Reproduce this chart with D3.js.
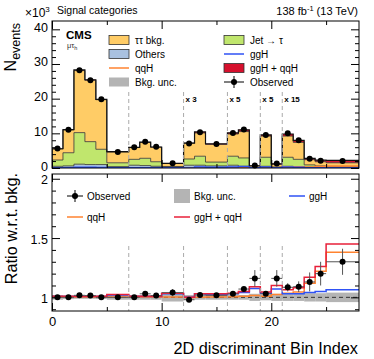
<!DOCTYPE html>
<html>
<head>
<meta charset="utf-8">
<script src="https://cdn.jsdelivr.net/npm/d3@7"></script>
<style>
  body { margin: 0; background: #fff; }
  svg { font-family: "Liberation Sans", Arial, sans-serif; }
</style>
</head>
<body>
<div id="chart-area"></div>
<script>
// bin edges of the 2D discriminant bins
const binEdges = [0, 1, 2, 3, 4, 5, 7, 8, 9, 10, 12, 13, 14, 16, 17, 18, 19, 20, 21, 22, 23, 24, 25, 28];

// top panel, events x10^3
const others = [0.5, 0.6, 1.1, 1.0, 1.0, 0.4, 0.8, 0.7, 0.5, 0.3, 0.8, 0.8, 0.6, 0.8, 0.5, 0.1, 0.5, 0.1, 0.5, 0.4, 0.2, 0.15, 0.1];
const jetFakes = [1.8, 3.8, 9.1, 6.6, 4.4, 1.1, 1.7, 2.1, 1.3, 0.1, 1.8, 2.6, 1.1, 2.6, 2.4, 0.1, 2.6, 0.2, 2.6, 2.1, 0.7, 0.45, 0.2];
const tautau = [3.2, 6.6, 17.9, 17.7, 14.3, 3.1, 3.4, 4.6, 4.2, 0.9, 4.6, 6.7, 5.1, 6.4, 7.6, 0.4, 6.1, 0.8, 6.1, 4.9, 1.5, 1.2, 1.2];
const signal = [0.05, 0.08, 0.2, 0.15, 0.12, 0.1, 0.05, 0.08, 0.06, 0.04, 0.0, 0.3, 0.2, 0.35, 0.5, 0.05, 0.35, 0.1, 0.6, 0.55, 0.35, 0.45, 0.7];
const ggHTop = [0.05, 0.08, 0.25, 0.2, 0.15, 0.1, 0.05, 0.06, 0.05, 0.04, 0.0, 0.3, 0.2, 0.3, 0.4, 0.04, 0.3, 0.08, 0.3, 0.22, 0.1, 0.1, 0.1];
const qqHTop = [0.0, 0.0, 0.01, 0.01, 0.01, 0.0, 0.0, 0.01, 0.01, 0.0, 0.0, 0.0, 0.0, 0.05, 0.1, 0.01, 0.05, 0.03, 0.3, 0.35, 0.3, 0.4, 0.6];
const observed = [5.6, 11.0, 28.2, 25.3, 19.8, 4.6, 6.0, 7.6, 6.1, 1.35, 7.1, 10.3, 6.9, 10.1, 11.1, 0.7, 9.5, 1.3, 10.0, 8.0, 2.7, 2.1, 2.0];

// ratio panel
const ratioObs = [1.0, 1.0, 1.017, 1.015, 1.0, 1.0, 1.0, 1.03, 1.015, 1.04, 0.98, 1.02, 1.017, 1.03, 1.07, 1.16, 1.03, 1.16, 1.085, 1.09, 1.13, 1.2, 1.3];
const ratioErr = [0.01, 0.008, 0.006, 0.006, 0.007, 0.013, 0.013, 0.012, 0.013, 0.03, 0.012, 0.01, 0.012, 0.012, 0.012, 0.07, 0.013, 0.07, 0.035, 0.045, 0.08, 0.1, 0.11];
const bkgUnc = [0.02, 0.015, 0.012, 0.012, 0.014, 0.02, 0.02, 0.02, 0.02, 0.035, 0.02, 0.02, 0.02, 0.02, 0.02, 0.03, 0.025, 0.03, 0.03, 0.03, 0.035, 0.035, 0.04];
const ratioGGH = [1.008, 1.008, 1.008, 1.008, 1.008, 1.02, 1.008, 1.008, 1.008, 1.03, 1.0, 1.03, 1.025, 1.03, 1.04, 1.075, 1.035, 1.07, 1.03, 1.03, 1.04, 1.05, 1.065];
const ratioQQH = [1.0, 1.0, 1.0, 1.0, 1.0, 1.003, 1.0, 1.0, 1.0, 1.003, 0.998, 1.0, 1.002, 1.005, 1.01, 1.015, 1.01, 1.025, 1.035, 1.045, 1.12, 1.22, 1.38];
const ratioSig = [1.01, 1.01, 1.01, 1.01, 1.01, 1.025, 1.01, 1.01, 1.01, 1.035, 1.0, 1.03, 1.03, 1.035, 1.05, 1.09, 1.045, 1.1, 1.065, 1.08, 1.17, 1.26, 1.45];

// category boundaries and scale labels
const catLines = [7, 12, 16, 19, 21];
const catScales = [{ at: 12, label: "x 3" }, { at: 16, label: "x 5" }, { at: 19, label: "x 5" }, { at: 21, label: "x 15" }];

const COL = {
  tt: "#ffcc66", jet: "#c0e66d", others: "#a9c1e0", ggH: "#2f52f5",
  qqH: "#ff8330", sig: "#d6102d", unc: "#b4b4b4"
};

const W = 374, H = 359;
const X0 = 52, X1 = 359;
const TOP = { y0: 168, y1: 21 };
const BOT = { y0: 311, y1: 174 };

const svg = d3.select("#chart-area").append("svg")
  .attr("width", W).attr("height", H);

const x = d3.scaleLinear().domain([0, 28]).range([X0, X1]);
const yTop = d3.scaleLinear().domain([0, 42.4]).range([TOP.y0, TOP.y1]);
const yBot = d3.scaleLinear().domain([0.885, 2.04]).range([BOT.y0, BOT.y1]);

const nb = binEdges.length - 1;
const bins = d3.range(nb).map((i) => ({
  lo: binEdges[i], hi: binEdges[i + 1],
  others: others[i], jet: jetFakes[i], tt: tautau[i], sig: signal[i]
}));

// step helpers
function stepPts(vals) {
  const pts = [];
  vals.forEach((v, i) => { pts.push([binEdges[i], v]); pts.push([binEdges[i + 1], v]); });
  return pts;
}
function stepPtsClosed(vals) {
  const pts = stepPts(vals);
  return [[binEdges[0], 0], ...pts, [binEdges[nb], 0]];
}

// ---------------- top panel ----------------
const topG = svg.append("g");
topG.append("clipPath").attr("id", "clipTop").append("rect")
  .attr("x", X0).attr("y", TOP.y1).attr("width", X1 - X0).attr("height", TOP.y0 - TOP.y1);
const topPlot = topG.append("g").attr("clip-path", "url(#clipTop)");

const keys = ["others", "jet", "tt", "sig"];
const stacked = d3.stack().keys(keys)(bins);
const area = d3.area()
  .x((d) => x(d.x)).y0((d) => yTop(d.y0)).y1((d) => yTop(d.y1));

stacked.forEach((layer) => {
  const pts = [];
  layer.forEach((s, i) => {
    pts.push({ x: binEdges[i], y0: s[0], y1: s[1] });
    pts.push({ x: binEdges[i + 1], y0: s[0], y1: s[1] });
  });
  topPlot.append("path").attr("d", area(pts))
    .attr("fill", COL[layer.key]).attr("stroke", "none");
});

const lineTop = d3.line().x((d) => x(d[0])).y((d) => yTop(d[1]));
// component outlines
stacked.forEach((layer) => {
  if (layer.key === "sig") return;
  topPlot.append("path")
    .attr("d", lineTop(stepPtsClosed(layer.map((s) => s[1]))))
    .attr("fill", "none").attr("stroke", "#333").attr("stroke-width", 0.8);
});
// signal curves at bottom
topPlot.append("path").attr("d", lineTop(stepPts(qqHTop)))
  .attr("fill", "none").attr("stroke", COL.qqH).attr("stroke-width", 1.5);
topPlot.append("path").attr("d", lineTop(stepPts(ggHTop)))
  .attr("fill", "none").attr("stroke", COL.ggH).attr("stroke-width", 1.5);
// total stack outline
topPlot.append("path")
  .attr("d", lineTop(stepPtsClosed(stacked[3].map((s) => s[1]))))
  .attr("fill", "none").attr("stroke", "#111").attr("stroke-width", 1.2);

// category lines
catLines.forEach((c) => {
  topPlot.append("line").attr("x1", x(c)).attr("x2", x(c))
    .attr("y1", 92).attr("y2", TOP.y0)
    .attr("stroke", "#aaa").attr("stroke-dasharray", "4,3").attr("stroke-width", 1);
});
catScales.forEach((c) => {
  topG.append("text").attr("x", x(c.at) + 2).attr("y", 102)
    .attr("font-size", "8px").attr("font-weight", "bold").text(c.label);
});

// observed
topG.selectAll(".obsTop").data(bins).enter().append("circle")
  .attr("cx", (d) => x((d.lo + d.hi) / 2))
  .attr("cy", (d, i) => yTop(observed[i]))
  .attr("r", 3).attr("fill", "#000");

// frame + axes
function frame(g, y0, y1) {
  g.append("rect").attr("x", X0).attr("y", y1).attr("width", X1 - X0).attr("height", y0 - y1)
    .attr("fill", "none").attr("stroke", "#000").attr("stroke-width", 1);
}
function yAxes(g, scale, major, minor, fmt, shift) {
  g.append("g").attr("transform", `translate(${X0},0)`)
    .call(d3.axisLeft(scale).tickValues(major).tickFormat(fmt).tickSizeInner(-8).tickSizeOuter(0).tickPadding(4))
    .call((a) => a.select(".domain").remove())
    .call((a) => a.selectAll("text").attr("font-size", "12.5px").attr("font-family", "Liberation Sans, Arial")
      .attr("transform", `translate(0,${shift})`));
  g.append("g").attr("transform", `translate(${X0},0)`)
    .call(d3.axisLeft(scale).tickValues(minor).tickFormat("").tickSizeInner(-4).tickSizeOuter(0))
    .call((a) => a.select(".domain").remove());
  g.append("g").attr("transform", `translate(${X1},0)`)
    .call(d3.axisRight(scale).tickValues(major).tickFormat("").tickSizeInner(-8).tickSizeOuter(0))
    .call((a) => a.select(".domain").remove());
  g.append("g").attr("transform", `translate(${X1},0)`)
    .call(d3.axisRight(scale).tickValues(minor).tickFormat("").tickSizeInner(-4).tickSizeOuter(0))
    .call((a) => a.select(".domain").remove());
}
function xAxes(g, y0, y1, labels) {
  const maj = [0, 10, 20], mnr = [5, 15, 25];
  g.append("g").attr("transform", `translate(0,${y0})`)
    .call(d3.axisBottom(x).tickValues(maj).tickFormat(labels ? d3.format("d") : "").tickSizeInner(-8).tickSizeOuter(0).tickPadding(6))
    .call((a) => a.select(".domain").remove())
    .call((a) => a.selectAll("text").attr("font-size", "13px").attr("font-family", "Liberation Sans, Arial"));
  g.append("g").attr("transform", `translate(0,${y0})`)
    .call(d3.axisBottom(x).tickValues(mnr).tickFormat("").tickSizeInner(-4).tickSizeOuter(0))
    .call((a) => a.select(".domain").remove());
  g.append("g").attr("transform", `translate(0,${y1})`)
    .call(d3.axisTop(x).tickValues(maj).tickFormat("").tickSizeInner(-8).tickSizeOuter(0))
    .call((a) => a.select(".domain").remove());
  g.append("g").attr("transform", `translate(0,${y1})`)
    .call(d3.axisTop(x).tickValues(mnr).tickFormat("").tickSizeInner(-4).tickSizeOuter(0))
    .call((a) => a.select(".domain").remove());
}

frame(topG, TOP.y0, TOP.y1);
yAxes(topG, yTop, [0, 10, 20, 30, 40], d3.range(2, 42, 2).filter((v) => v % 10 !== 0), d3.format("d"), -2);
xAxes(topG, TOP.y0, TOP.y1, false);

// header texts
const xt = svg.append("text").attr("x", 25).attr("y", 17).attr("font-size", "12px");
xt.append("tspan").text("×10");
xt.append("tspan").attr("font-size", "8px").attr("dy", -5).text("3");
svg.append("text").attr("x", 57).attr("y", 14).attr("font-size", "10.5px").text("Signal categories");
const lumi = svg.append("text").attr("x", 358).attr("y", 15).attr("font-size", "11px").attr("text-anchor", "end");
lumi.append("tspan").text("138 fb");
lumi.append("tspan").attr("font-size", "7.5px").attr("dy", -4).text("-1");
lumi.append("tspan").attr("dy", 4).text(" (13 TeV)");

svg.append("text").attr("x", 66).attr("y", 39).attr("font-size", "11.5px").attr("font-weight", "bold").text("CMS");
const ch = svg.append("text").attr("x", 67).attr("y", 48).attr("font-size", "7.5px").attr("fill", "#333");
ch.append("tspan").text("μτ");
ch.append("tspan").attr("font-size", "5.5px").attr("dy", 2).text("h");

// y titles
const yt1 = svg.append("text").attr("transform", "translate(16,23) rotate(-90)")
  .attr("text-anchor", "end").attr("font-size", "16px");
yt1.append("tspan").text("N");
yt1.append("tspan").attr("font-size", "12.5px").attr("dy", 4).text("events");
svg.append("text").attr("transform", "translate(17,173) rotate(-90)")
  .attr("text-anchor", "end").attr("font-size", "16.3px").text("Ratio w.r.t. bkg.");

// top legend
const legTop = [
  { col: 0, row: 0, type: "box", fill: COL.tt, label: "ττ bkg." },
  { col: 1, row: 0, type: "box", fill: COL.jet, label: "Jet → τ" },
  { col: 0, row: 1, type: "box", fill: COL.others, label: "Others" },
  { col: 1, row: 1, type: "line", fill: COL.ggH, label: "ggH" },
  { col: 0, row: 2, type: "line", fill: COL.qqH, label: "qqH" },
  { col: 1, row: 2, type: "box", fill: COL.sig, label: "ggH + qqH" },
  { col: 0, row: 3, type: "grey", fill: COL.unc, label: "Bkg. unc." },
  { col: 1, row: 3, type: "obs", fill: "#000", label: "Observed" }
];
function drawLegend(items, colX, rowY, boxW, boxH, textOff) {
  items.forEach((d) => {
    const lx = colX[d.col], ly = rowY[d.row];
    if (d.type === "box") {
      svg.append("rect").attr("x", lx).attr("y", ly - boxH / 2).attr("width", boxW).attr("height", boxH)
        .attr("fill", d.fill).attr("stroke", "#333").attr("stroke-width", 0.8);
    } else if (d.type === "grey") {
      svg.append("rect").attr("x", lx).attr("y", ly - boxH / 2).attr("width", boxW).attr("height", boxH)
        .attr("fill", d.fill);
    } else if (d.type === "line") {
      svg.append("line").attr("x1", lx).attr("x2", lx + boxW).attr("y1", ly).attr("y2", ly)
        .attr("stroke", d.fill).attr("stroke-width", 1.5);
    } else {
      svg.append("line").attr("x1", lx).attr("x2", lx + boxW).attr("y1", ly).attr("y2", ly)
        .attr("stroke", "#000").attr("stroke-width", 1);
      svg.append("line").attr("x1", lx + boxW / 2).attr("x2", lx + boxW / 2).attr("y1", ly - 6).attr("y2", ly + 6)
        .attr("stroke", "#000").attr("stroke-width", 1);
      svg.append("circle").attr("cx", lx + boxW / 2).attr("cy", ly).attr("r", 3).attr("fill", "#000");
    }
    svg.append("text").attr("x", lx + boxW + textOff).attr("y", ly + 3.5)
      .attr("font-size", "10px").text(d.label);
  });
}
drawLegend(legTop, [109, 224], [40, 54, 68, 82], 20, 9, 6);

// ---------------- ratio panel ----------------
const botG = svg.append("g");
botG.append("clipPath").attr("id", "clipBot").append("rect")
  .attr("x", X0).attr("y", BOT.y1).attr("width", X1 - X0).attr("height", BOT.y0 - BOT.y1);
const botPlot = botG.append("g").attr("clip-path", "url(#clipBot)");

// bkg unc band
botPlot.selectAll(".unc").data(bins).enter().append("rect")
  .attr("x", (d) => x(d.lo)).attr("width", (d) => x(d.hi) - x(d.lo))
  .attr("y", (d, i) => yBot(1 + bkgUnc[i]))
  .attr("height", (d, i) => yBot(1 - bkgUnc[i]) - yBot(1 + bkgUnc[i]))
  .attr("fill", COL.unc);

botPlot.append("line").attr("x1", X0).attr("x2", X1).attr("y1", yBot(1)).attr("y2", yBot(1))
  .attr("stroke", "#333").attr("stroke-dasharray", "4,3").attr("stroke-width", 1);

const lineBot = d3.line().x((d) => x(d[0])).y((d) => yBot(d[1]));
[[ratioQQH, COL.qqH], [ratioGGH, COL.ggH], [ratioSig, "#e8203a"]].forEach(([vals, col]) => {
  botPlot.append("path").attr("d", lineBot(stepPts(vals)))
    .attr("fill", "none").attr("stroke", col).attr("stroke-width", 1.5);
});

catLines.forEach((c) => {
  botPlot.append("line").attr("x1", x(c)).attr("x2", x(c))
    .attr("y1", 246).attr("y2", BOT.y0)
    .attr("stroke", "#aaa").attr("stroke-dasharray", "4,3").attr("stroke-width", 1);
});

// observed ratio with errors
const obs = botG.selectAll(".obsR").data(bins).enter().append("g");
obs.append("line")
  .attr("x1", (d) => x(d.lo)).attr("x2", (d) => x(d.hi))
  .attr("y1", (d, i) => yBot(ratioObs[i])).attr("y2", (d, i) => yBot(ratioObs[i]))
  .attr("stroke", "#555").attr("stroke-width", 1);
obs.append("line")
  .attr("x1", (d) => x((d.lo + d.hi) / 2)).attr("x2", (d) => x((d.lo + d.hi) / 2))
  .attr("y1", (d, i) => yBot(ratioObs[i] + ratioErr[i])).attr("y2", (d, i) => yBot(ratioObs[i] - ratioErr[i]))
  .attr("stroke", "#555").attr("stroke-width", 1);
obs.append("circle")
  .attr("cx", (d) => x((d.lo + d.hi) / 2)).attr("cy", (d, i) => yBot(ratioObs[i]))
  .attr("r", 3).attr("fill", "#000");

frame(botG, BOT.y0, BOT.y1);
yAxes(botG, yBot, [1, 1.5, 2], d3.range(0.9, 2.05, 0.1).filter((v) => Math.abs(v * 2 - Math.round(v * 2)) > 0.01), (d) => (d === 1.5 ? "1.5" : d3.format("d")(d)), 1);
xAxes(botG, BOT.y0, BOT.y1, true);

const legBot = [
  { col: 0, row: 0, type: "obs", fill: "#000", label: "Observed" },
  { col: 1, row: 0, type: "grey", fill: COL.unc, label: "Bkg. unc." },
  { col: 2, row: 0, type: "line", fill: COL.ggH, label: "ggH" },
  { col: 0, row: 1, type: "line", fill: COL.qqH, label: "qqH" },
  { col: 1, row: 1, type: "line", fill: "#e8203a", label: "ggH + qqH" }
];
drawLegend(legBot, [67, 174, 289], [196, 217], 16, 14, 4);

svg.append("text").attr("x", 358).attr("y", 354).attr("text-anchor", "end")
  .attr("font-size", "16.3px").text("2D discriminant Bin Index");
</script>
</body>
</html>
